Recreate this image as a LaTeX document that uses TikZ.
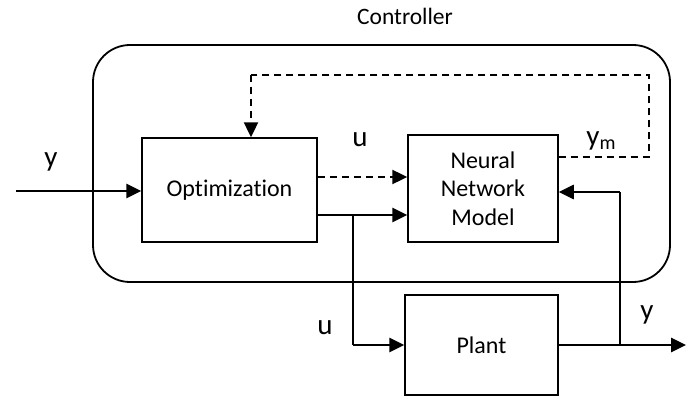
\documentclass[tikz,border=0pt]{standalone}
\usepackage{fontspec}
\setmainfont{Carlito}[Ligatures=NoCommon]
\usetikzlibrary{arrows.meta}
\begin{document}
\begin{tikzpicture}[x=1pt,y=-1pt,
  blk/.style={draw,line width=1.5pt,inner sep=0pt,align=center,font=\fontsize{24}{28.5}\selectfont},
  arr/.style={line width=2.6pt,-{Triangle[length=15pt,width=14pt]}},
  dasharr/.style={line width=2.4pt,dash pattern=on 7pt off 5pt,-{Triangle[length=15pt,width=14pt]}},
  dashline/.style={line width=2.4pt,dash pattern=on 7pt off 5pt},
  lbl/.style={font=\fontsize{29}{30}\selectfont,inner sep=0pt},
  small/.style={font=\fontsize{23.5}{28}\selectfont,inner sep=0pt}]
\useasboundingbox (0,0) rectangle (691,396);
% controller frame
\draw[line width=1.8pt,rounded corners=37pt] (93,45) rectangle (670,282);
\node[small] (ctl) at (405,16) {Controller};
% blocks
\node[blk,minimum width=175pt,minimum height=104pt] (opt) at (229.5,190) {Optimization};
\node[blk,minimum width=150pt,minimum height=107pt] (nn) at (483,188.5) {Neural\\Network\\Model};
\node[blk,minimum width=153pt,minimum height=100pt] (plant) at (481.5,345) {Plant};
% coordinates
\coordinate (in) at (16,191);
\coordinate (ym1) at (649,157);
\coordinate (ym2) at (649,75);
\coordinate (ym3) at (251,75);
\coordinate (du) at (0,177);
\coordinate (su) at (0,215);
\coordinate (br) at (353,215);
\coordinate (out) at (686,345);
\coordinate (fb) at (620,345);
\coordinate (fbt) at (620,192);
% connectors
\draw[arr] (in) -- (in -| opt.west);
\draw[dasharr] (opt.east |- du) -- (nn.west |- du);
\draw[arr] (opt.east |- su) -- (nn.west |- su);
\draw[line width=1.5pt] (br) -- (br |- plant.west);
\draw[arr] (br |- plant.west) -- (plant.west);
\draw[arr] (plant.east) -- (out);
\draw[line width=1.5pt] (fb) -- (fbt);
\draw[arr] (fbt) -- (nn.east |- fbt);
\draw[dashline] (nn.east |- ym1) -- (ym1) -- (ym2) -- (ym3);
\draw[dasharr] (ym3) -- (ym3 |- opt.north);
% labels
\node[lbl] (ly) at (51,162) {y};
\node[lbl] (lu) at (360,140) {u};
\node[lbl] (lym) at (601,141) {y\raisebox{-0.25ex}{\fontsize{20}{20}\selectfont m}};
\node[lbl] (lu2) at (325,328) {u};
\node[lbl] (ly2) at (647,315) {y};
\end{tikzpicture}
\end{document}
